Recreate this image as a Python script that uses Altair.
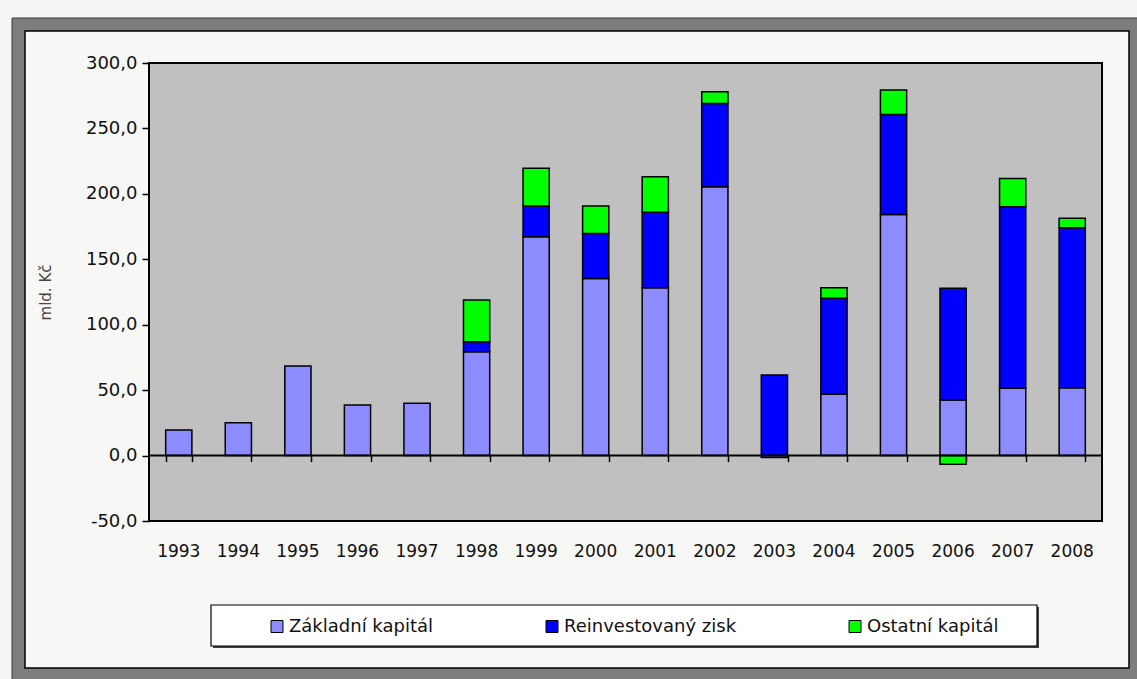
import altair as alt
import pandas as pd

# Přímé zahraniční investice do ČR podle složek (mld. Kč)
roky = ["1993", "1994", "1995", "1996", "1997", "1998", "1999", "2000",
        "2001", "2002", "2003", "2004", "2005", "2006", "2007", "2008"]
serie = ["Základní kapitál", "Reinvestovaný zisk", "Ostatní kapitál"]
barvy = ["#8C8CFF", "#0000FF", "#00FF00"]

zakladni = [19.6, 25.1, 68.4, 38.7, 40.0, 79.4, 167.2, 135.4,
            128.3, 205.4, -1.5, 46.8, 184.3, 42.5, 51.4, 51.9]
reinvestovany = [0, 0, 0, 0, 0, 7.6, 23.5, 34.4,
                 57.6, 63.7, 61.6, 73.4, 76.4, 85.3, 138.7, 122.2]
ostatni = [0, 0, 0, 0, 0, 31.9, 28.8, 20.9,
           27.2, 8.9, 0, 8.1, 18.6, -6.6, 21.7, 7.2]

osa_y = [-50, 0, 50, 100, 150, 200, 250, 300]

W, H = 953, 458
Y_MIN, Y_MAX = -50, 300
FONT = "DejaVu Sans"

rows = []
for i, rok in enumerate(roky):
    for poradi, (nazev, hodnoty) in enumerate(zip(serie, [zakladni, reinvestovany, ostatni])):
        if hodnoty[i] != 0:
            rows.append({"rok": rok, "slozka": nazev, "poradi": poradi, "hodnota": hodnoty[i]})
df = pd.DataFrame(rows)

x_scale = alt.Scale(domain=roky, paddingInner=0.56, paddingOuter=0.28)
y_scale = alt.Scale(domain=[Y_MIN, Y_MAX], nice=False, zero=False)

jeden = alt.Data(values=[{"k": 0}])


def obdelnik(x1, x2, y1, y2, fill, stroke=None, sw=0):
    props = {"fill": fill}
    if stroke is not None:
        props["stroke"] = stroke
        props["strokeWidth"] = sw
    return alt.Chart(jeden).mark_rect(**props).encode(
        x=alt.value(x1), x2=alt.value(x2), y=alt.value(y1), y2=alt.value(y2)
    )


# rám kolem celého grafu
ram_vnejsi = obdelnik(-137, 1000, -45, 640, "#7D7D7D", "#3A3A3A", 1)
ram_vnitrni = obdelnik(-124, 980, -32, 605, "#F7F7F5", "black", 1.5)
pozadi = obdelnik(0, W, 0, H, "#C0C0C0", "black", 2)
legenda_stin = obdelnik(64, 890, 544, 585, "#404040")
legenda_box = obdelnik(62, 888, 542, 583, "white", "black", 1.2)

sloupce = alt.Chart(df).mark_bar(stroke="black", strokeWidth=1.5).encode(
    x=alt.X("rok:N", scale=x_scale, sort=roky,
            axis=alt.Axis(orient="bottom", title=None, ticks=False, tickSize=0,
                          domain=False, labelPadding=22, labelAngle=0, zindex=2,
                          labelFont=FONT, labelFontSize=17, labelColor="#111")),
    y=alt.Y("hodnota:Q", stack="zero", scale=y_scale,
            axis=alt.Axis(values=osa_y,
                          labelExpr="replace(replace(format(datum.value, '.1f'), '.', ','), '\u2212', '-')",
                          tickSize=7, tickColor="black", tickWidth=1.5,
                          domain=False, grid=False, zindex=2,
                          labelFont=FONT, labelFontSize=18, labelColor="#111", labelPadding=5,
                          title="mld. Kč", titleFont=FONT, titleFontSize=15,
                          titleFontWeight="normal", titleColor="#444",
                          titleAngle=270, titleX=-104, titleY=229,
                          titleAlign="center", titleBaseline="middle")),
    color=alt.Color("slozka:N", scale=alt.Scale(domain=serie, range=barvy),
                    legend=alt.Legend(orient="none", legendX=119, legendY=554.5,
                                      direction="horizontal", columns=3, title=None,
                                      symbolType="square", symbolSize=144,
                                      symbolStrokeColor="black", symbolStrokeWidth=1,
                                      labelFont=FONT, labelFontSize=18, labelColor="#111",
                                      labelOffset=3, labelLimit=400, columnPadding=109,
                                      padding=0)),
    order=alt.Order("poradi:Q", sort="ascending"),
)

nula = alt.Chart(jeden).mark_rule(color="black", strokeWidth=2).encode(y=alt.datum(0))

# dílky osy x na nulové čáře mezi kategoriemi
dilky = alt.Chart(df).mark_point(opacity=0).encode(
    x=alt.X("rok:N", scale=x_scale, sort=roky,
            axis=alt.Axis(orient="bottom", offset=-(H * (0 - Y_MIN) / (Y_MAX - Y_MIN)),
                          labels=False, domain=False, ticks=True, tickBand="extent",
                          tickSize=6, tickColor="black", tickWidth=1.5, zindex=2,
                          title=None, grid=False))
)

chart = alt.layer(
    ram_vnejsi, ram_vnitrni, pozadi, legenda_stin, legenda_box, sloupce, nula, dilky
).resolve_axis(x="independent").properties(
    width=W, height=H,
    autosize=alt.AutoSizeParams(type="none"),
    padding={"left": 149, "top": 63, "right": 35, "bottom": 158},
    background="#F5F5F3",
).configure_view(stroke="transparent")

chart.save("out.html", embed_options={"renderer": "svg", "actions": False})
